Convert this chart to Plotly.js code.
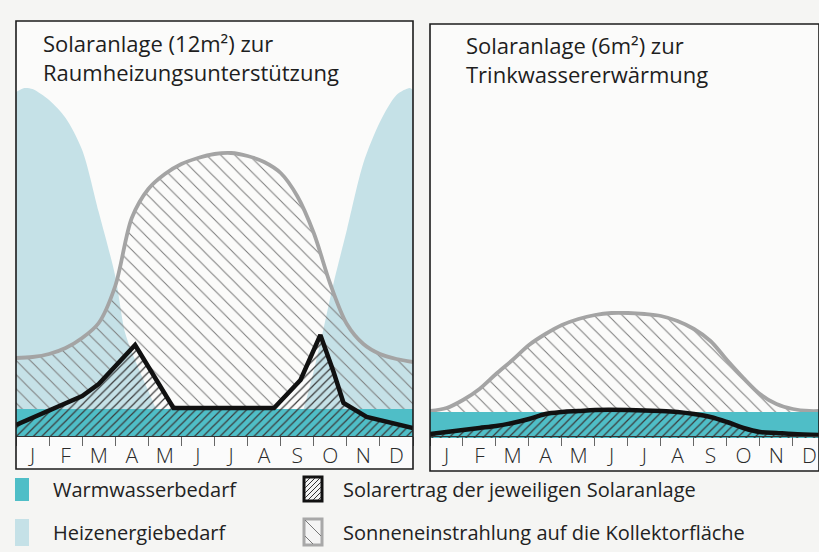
<!DOCTYPE html>
<html><head><meta charset="utf-8">
<script src="https://cdn.plot.ly/plotly-3.0.1.min.js"></script>
<style>html,body{margin:0;padding:0;background:#f5f5f3;} #chart{width:819px;height:552px;}</style>
</head><body><div id="chart"></div>
<script>
// ---- data (y = relative height above the month strip) ----
const months = ['J','F','M','A','M','J','J','A','S','O','N','D'];
const monthCenters = [0.5,1.5,2.5,3.5,4.5,5.5,6.5,7.5,8.5,9.5,10.5,11.5];

// left panel: Solaranlage 12 m² (heating support)
const heatLX = [0,0.25,0.5,1,1.5,2,2.5,3,3.3,3.6,4,4.3,4.6,8.4,8.7,9,9.3,9.6,10,10.5,11,11.5,11.9,12];
const heatL  = [344,348,347,336,318,286,224,160,103,76,45,22,0,0,28,65,108,153,206,273,314,341,348,346];
const grayLX = [0,0.5,1,1.5,2,2.5,3,3.5,4,4.5,5,5.5,6,6.5,7,7.5,8,8.5,9,9.5,10,10.5,11,11.5,12];
const grayL  = [78,79,82,88,98,113,150,218,247,262,272,278,282,283,280,274,263,240,203,152,112,92,82,77,74];
const blackLX = [0,0.5,1,1.5,2,2.5,3,3.6,4.76,7.8,8.6,9.2,9.6,9.9,10.6,11,11.5,12];
const blackL  = [11,18,25,33,40,52,69,91,28,28,56,101,64,33,19,16,12,8];
const tealLX = [0,12];
const tealL  = [27,27];

// right panel: Solaranlage 6 m² (hot water)
const grayRX = [0,0.5,1,1.5,2,2.5,3,3.5,4,4.5,5,5.5,6,6.5,7,7.5,8,8.5,9,9.5,10,10.5,11,11.5,11.79];
const grayR  = [27,30,38,49,64,78,93,104,113,119,123,125,125,124,122,117,109,97,78,60,44,34,29,27,27];
const blackRX = [0,0.5,1,1.5,2,2.5,3,3.5,4,4.5,5,6,7,7.5,8,8.5,9,9.5,10,10.5,11,11.79];
const blackR  = [4,6,8,10,12,15,19,24,26,27,28,28,27,26,24,21,16,10,6,5,4,3];
const tealRX = [0,11.79];
const tealR  = [26,26];

const titleL = 'Solaranlage (12m²) zur<br>Raumheizungsunterstützung';
const titleR = 'Solaranlage (6m²) zur<br>Trinkwassererwärmung';
const legendLabels = ['Warmwasserbedarf','Heizenergiebedarf','Solarertrag der jeweiligen Solaranlage','Sonneneinstrahlung auf die Kollektorfläche'];

// ---- styling ----
const W = 819, H = 552;
const px = x => x / W, py = y => 1 - y / H;
const FONT = 'Open Sans, Noto Sans, sans-serif';
const C_TEAL = '#4fbec7', C_HEAT = '#c5e1e7', C_GRAY = '#a4a4a4', C_BLACK = '#111111';
const transparent = 'rgba(0,0,0,0)';

function panelTraces(xa, ya, heatX, heatY, grayX, grayY, blackX, blackY, tealX, tealY) {
  const t = [];
  if (heatX) t.push({x: heatX, y: heatY, xaxis: xa, yaxis: ya, mode: 'lines',
    line: {width: 0, shape: 'spline', smoothing: 0.8}, fill: 'tozeroy', fillcolor: C_HEAT, hoverinfo: 'skip'});
  // reference edge for the irradiation fill (no visible line)
  t.push({x: blackX, y: blackY, xaxis: xa, yaxis: ya, mode: 'lines', line: {width: 0, color: transparent}, hoverinfo: 'skip'});
  t.push({x: grayX, y: grayY, xaxis: xa, yaxis: ya, mode: 'lines',
    line: {width: 3.8, color: C_GRAY, shape: 'spline', smoothing: 0.9}, fill: 'tonexty',
    fillpattern: {shape: '\\', fgcolor: '#7a7a7a', bgcolor: transparent, size: 10, solidity: 0.1}, hoverinfo: 'skip'});
  t.push({x: tealX, y: tealY, xaxis: xa, yaxis: ya, mode: 'lines', line: {width: 0}, fill: 'tozeroy', fillcolor: C_TEAL, hoverinfo: 'skip'});
  t.push({x: blackX, y: blackY, xaxis: xa, yaxis: ya, mode: 'lines',
    line: {width: 4.5, color: C_BLACK, shape: (xa === 'x2' ? 'spline' : 'linear')}, fill: 'tozeroy',
    fillpattern: {shape: '/', fgcolor: '#3a3a3a', bgcolor: transparent, size: 6, solidity: 0.2}, hoverinfo: 'skip'});
  return t;
}

const data = [
  ...panelTraces('x', 'y', heatLX, heatL, grayLX, grayL, blackLX, blackL, tealLX, tealL),
  ...panelTraces('x2', 'y2', null, null, grayRX, grayR, blackRX, blackR, tealRX, tealR)
];

function xAxis(domain, range) {
  return {domain, range, showgrid: false, zeroline: false, showline: true, linecolor: '#333', linewidth: 1,
    tickmode: 'array', tickvals: monthCenters, ticktext: months, ticks: '', ticklabelstandoff: 1,
    tickfont: {family: FONT, size: 21, color: '#2a2a2a', weight: 300},
    minor: {ticks: 'outside', ticklen: 9, tickcolor: '#666', tickwidth: 1, dtick: 1, tick0: 0, showgrid: false},
    fixedrange: true};
}
function yAxis(domain, range) {
  return {domain, range, visible: false, showgrid: false, zeroline: false, fixedrange: true};
}

// panel geometry (pixels)
const L = {x0: 16, x1: 413, top: 21, base: 436, bottom: 469};
const R = {x0: 430, x1: 819, top: 24, base: 438, bottom: 471};
const stripL = -(L.bottom - L.base) / (L.base - L.top);
const stripR = -(R.bottom - R.base) / (R.base - R.top);

const shapes = [];
[['x','y',stripL],['x2','y2',stripR]].forEach(([xa, ya, s]) => {
  shapes.push({type: 'rect', xref: xa + ' domain', yref: ya + ' domain', x0: 0, x1: 1, y0: s, y1: 0,
    fillcolor: '#fbfbfb', line: {width: 0}, layer: 'below'});
  shapes.push({type: 'rect', xref: xa + ' domain', yref: ya + ' domain', x0: 0, x1: 1, y0: s, y1: 1,
    fillcolor: transparent, line: {color: '#1c1c1c', width: 1.6}, layer: 'above'});
});

// legend icons
function rectPx(x0, y0, x1, y1, fill, lineColor, lw) {
  return {type: 'rect', xref: 'paper', yref: 'paper', x0: px(x0), x1: px(x1), y0: py(y1), y1: py(y0),
    fillcolor: fill, line: {color: lineColor || transparent, width: lw || 0}};
}
function hatchPath(x0, y0, x1, y1, step, dir) {
  let d = '';
  if (dir === '/') {
    for (let c = x0 + y0 + step; c < x1 + y1; c += step) {
      const xa = Math.max(x0, c - y1), xb = Math.min(x1, c - y0);
      if (xb > xa) d += `M${px(xa)},${py(c - xa)}L${px(xb)},${py(c - xb)}`;
    }
  } else {
    for (let c = x0 - y1 + step / 2; c < x1 - y0; c += step) {
      const xa = Math.max(x0, c + y0), xb = Math.min(x1, c + y1);
      if (xb > xa) d += `M${px(xa)},${py(xa - c)}L${px(xb)},${py(xb - c)}`;
    }
  }
  return d;
}
shapes.push(rectPx(15, 478, 29, 501, C_TEAL));
shapes.push(rectPx(15, 519, 29, 546, C_HEAT));
shapes.push(rectPx(304, 477, 322, 501, '#f4f4f4', '#111', 3));
shapes.push({type: 'path', xref: 'paper', yref: 'paper', path: hatchPath(305, 478, 321, 500, 5, '/'), line: {color: '#333', width: 1}});
shapes.push(rectPx(304, 519, 322, 545, '#f4f4f4', '#a8a8a8', 3));
shapes.push({type: 'path', xref: 'paper', yref: 'paper', path: hatchPath(305, 520, 321, 544, 16, '\\'), line: {color: '#777', width: 1}});

const annotations = [
  {text: titleL, x: px(41), y: py(26), xref: 'paper', yref: 'paper', xanchor: 'left', yanchor: 'top', align: 'left', showarrow: false,
    font: {family: FONT, size: 22, color: '#1e1e1e'}},
  {text: titleR, x: px(464), y: py(28), xref: 'paper', yref: 'paper', xanchor: 'left', yanchor: 'top', align: 'left', showarrow: false,
    font: {family: FONT, size: 22, color: '#1e1e1e'}},
  {text: legendLabels[0], x: px(51), y: py(490), xref: 'paper', yref: 'paper', xanchor: 'left', yanchor: 'middle', showarrow: false, font: {family: FONT, size: 20, color: '#222'}},
  {text: legendLabels[1], x: px(51), y: py(532), xref: 'paper', yref: 'paper', xanchor: 'left', yanchor: 'middle', showarrow: false, font: {family: FONT, size: 20, color: '#222'}},
  {text: legendLabels[2], x: px(341), y: py(490), xref: 'paper', yref: 'paper', xanchor: 'left', yanchor: 'middle', showarrow: false, font: {family: FONT, size: 20, color: '#222'}},
  {text: legendLabels[3], x: px(341), y: py(532), xref: 'paper', yref: 'paper', xanchor: 'left', yanchor: 'middle', showarrow: false, font: {family: FONT, size: 20, color: '#222'}}
];

const layout = {
  width: W, height: H, margin: {l: 0, r: 0, t: 0, b: 0},
  paper_bgcolor: '#f5f5f3', plot_bgcolor: '#fbfbfa', showlegend: false,
  xaxis: xAxis([px(L.x0), px(L.x1)], [0, 12]),
  yaxis: yAxis([py(L.base), py(L.top)], [0, L.base - L.top]),
  xaxis2: xAxis([px(R.x0), 1], [0, 11.79]),
  yaxis2: yAxis([py(R.base), py(R.top)], [0, R.base - R.top]),
  shapes, annotations
};

Plotly.newPlot('chart', data, layout, {staticPlot: true, displayModeBar: false});
</script>
</body></html>
